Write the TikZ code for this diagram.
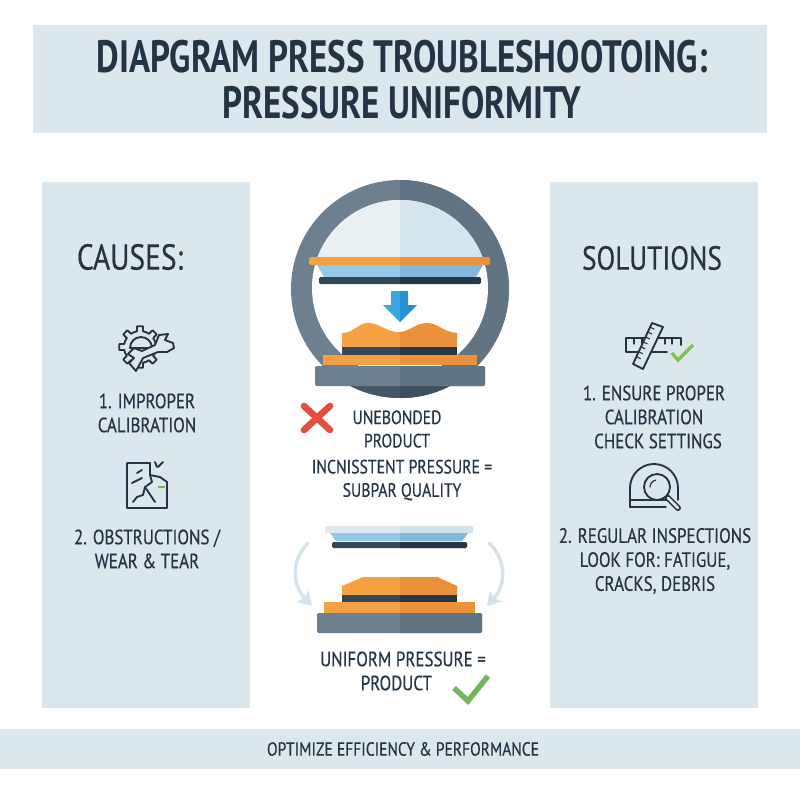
\documentclass[tikz,border=0pt]{standalone}
\usepackage{fontspec}
\setmainfont[FakeStretch=0.82,FakeBold=0.4]{PT Sans}
\newfontfamily\titlefont[FakeStretch=0.77]{PT Sans}
\usetikzlibrary{arrows.meta, positioning, calc}
\definecolor{panelblue}{RGB}{220, 230, 237}
\definecolor{inkdark}{RGB}{35, 52, 68}
\definecolor{okgreen}{RGB}{112, 182, 92}
\definecolor{iconcheck}{RGB}{120, 200, 70}
\definecolor{warnred}{RGB}{226, 80, 60}
\definecolor{palearrow}{RGB}{214, 227, 235}
\definecolor{palebarL}{RGB}{222, 232, 238}
\definecolor{palebarR}{RGB}{210, 224, 232}
% left and right halves of the press shading
\definecolor{ringL}{RGB}{108, 128, 143}
\definecolor{ringR}{RGB}{96, 116, 131}
\definecolor{ringdarkL}{RGB}{68, 88, 104}
\definecolor{ringdarkR}{RGB}{60, 80, 96}
\definecolor{orangeL}{RGB}{245, 160, 65}
\definecolor{orangeR}{RGB}{235, 145, 58}
\definecolor{plateL}{RGB}{52, 72, 90}
\definecolor{plateR}{RGB}{38, 56, 72}
\definecolor{skyL}{RGB}{150, 200, 232}
\definecolor{skyR}{RGB}{130, 184, 218}
\definecolor{domeL}{RGB}{232, 240, 244}
\definecolor{domeR}{RGB}{214, 228, 237}
\definecolor{arrowL}{RGB}{60, 165, 225}
\definecolor{arrowR}{RGB}{38, 145, 208}
\tikzset{
  panel/.style={fill=panelblue, draw=none},
  label/.style={text=inkdark, align=center, font=\fontsize{15.5}{18}\selectfont, inner sep=0pt},
  midlabel/.style={label, font=\fontsize{14.4}{17.5}\selectfont},
  heading/.style={text=inkdark, align=center, font=\fontsize{25}{30}\selectfont, inner sep=0pt},
  icon/.style={draw=inkdark, line width=1.4pt, line join=round, line cap=round},
  cutout/.style={icon, fill=panelblue},
}
% upper press, drawn once per half
\newcommand{\upperpress}[1]{
  \fill[ring#1] (400,289) circle (109);
  \begin{scope}
    \clip (291,386) rectangle (509,400);
    \fill[ringdark#1] (400,289) circle (109);
  \end{scope}
  \fill[white] (400,288) circle (88);
  \begin{scope}
    \clip (400,288) circle (88);
    \fill[dome#1] (300,190) rectangle (500,258);
  \end{scope}
  \fill[sky#1] (317,265) -- (483,265) -- (476,277) -- (324,277) -- cycle;
  \fill[orange#1, rounded corners=1.5pt] (309,257) rectangle (490,265);
  \fill[plate#1, rounded corners=1pt] (319,277) rectangle (481,284);
  \fill[arrow#1] (391,291) -- (408,291) -- (408,305) -- (417,305) -- (400,322) -- (383,305) -- (391,305) -- cycle;
  \fill[orange#1] (342,347) -- (342,333) .. controls (354,333) and (358,323) .. (368,323) .. controls (380,323) and (386,332) .. (398,332) .. controls (410,332) and (415,323) .. (427,323) .. controls (438,323) and (443,332) .. (457,333) -- (457,347) -- cycle;
  \fill[plate#1] (342,347) rectangle (457,355);
  \fill[orange#1] (323,355) rectangle (477,365);
  \fill[ring#1, rounded corners=1pt] (315,366) rectangle (485,386);
}
% lower press, drawn once per half
\newcommand{\lowerpress}[1]{
  \fill[palebar#1, rounded corners=1pt] (325,526) rectangle (473,533);
  \fill[sky#1] (330,533) -- (468,533) -- (462,541) -- (336,541) -- cycle;
  \fill[plate#1, rounded corners=1pt] (332,542) rectangle (467,548);
  \fill[orange#1] (342,595) -- (342,586) -- (363,577) -- (437,577) -- (457,586) -- (457,595) -- cycle;
  \fill[plate#1] (342,595) rectangle (457,602);
  \fill[orange#1] (324,602) rectangle (475,613);
  \fill[ring#1, rounded corners=1pt] (317,613) rectangle (482,633);
}
\begin{document}
\begin{tikzpicture}[x=0.75pt, y=-0.75pt]
  \useasboundingbox (0,0) rectangle (800,800);

  % Panels
  \fill[white] (0,0) rectangle (800,800);
  \fill[panel] (33,25) rectangle (767,133);
  \fill[panel] (42,182) rectangle (250,708);
  \fill[panel] (550,182) rectangle (758,708);
  \fill[panel] (0,729) rectangle (800,769);

  % Title
  \node[text=inkdark, align=center, inner sep=0pt, font=\titlefont\fontsize{34}{34.5}\selectfont\bfseries] (title) at (402,80) {DIAPGRAM PRESS TROUBLESHOOTOING:\\PRESSURE UNIFORMITY};

  % Causes
  \node[heading, font=\fontsize{27}{30}\selectfont] (causes) at (130,257) {CAUSES:};
  \node[label] (cause1) at (147,413) {1. IMPROPER\\CALIBRATION};
  \node[label] (cause2) at (147,549) {2. OBSTRUCTIONS /\\WEAR \& TEAR};

  % Gear and wrench
  \foreach \tooth in {0,45,...,315}
    \draw[icon] ($(140,347)+(\tooth-11:16)$) -- ($(140,347)+(\tooth-8:21)$) -- ($(140,347)+(\tooth+8:21)$) -- ($(140,347)+(\tooth+11:16)$) arc (\tooth+11:\tooth+34:16);
  \draw[icon] (130,348) arc (180:360:11) -- cycle;
  \draw[cutout] (159,335) -- (168,334) -- (165,340) -- (173,343) -- (174,348) -- (167,352) -- (158,352) -- (143,358) -- (136,371) -- (129,363) -- (134,358) -- (128,354) -- (134,348) -- (142,351) -- (155,345) -- cycle;

  % Cracked sheet
  \draw[icon] (150,463) -- (127,463) -- (127,508) -- (167,508) -- (167,482) -- (160,477);
  \draw[icon] (150,463) -- (150,475) -- (160,477);
  \draw[icon] (133,502) -- (137,497) -- (143,495) -- (145,487) -- (152,482) -- (150,475);
  \draw[icon] (145,487) -- (155,502);
  \draw[icon] (132,483) -- (142,478);
  \draw[icon] (137,473) -- (142,470);
  \draw[icon] (158,467) -- (163,462);
  \draw[icon] (155,462) -- (157,467);
  \draw[okgreen, line width=.8pt] (158,487) -- (165,487);

  % Solutions
  \node[heading] (solutions) at (652,258) {SOLUTIONS};
  \node[label] (sol1) at (654,417) {1. ENSURE PROPER\\CALIBRATION\\\hspace*{6pt}CHECK SETTINGS};
  \node[label] (sol2) at (655,561) {2. REGULAR INSPECTIONS\\LOOK FOR: FATIGUE,\\CRACKS, DEBRIS};

  % Rulers
  \draw[icon] (667,352) -- (626,352) -- (626,338) -- (681,338) -- (681,345);
  \foreach \tick in {634,642,665,672}
    \draw[icon, line width=.8pt] (\tick,338) -- (\tick,344);
  \draw[cutout] (652,323) -- (663,327) -- (643,369) -- (633,364) -- cycle;
  \foreach \step in {.1,.22,...,.9}
    \draw[icon, line width=.8pt] ($(652,323)!\step!(633,364)$) -- ++(4,2);
  \draw[iconcheck, line width=2.6pt] (672,353) -- (678,360) -- (693,345);

  % Magnifier in gauge
  \draw[icon] (630,507) -- (630,488) arc (180:360:24) -- (678,500);
  \draw[icon] (630,500) -- (668,500);
  \draw[icon] (630,507) -- (666,507);
  \draw[inkdark, line width=4.5pt, line cap=round] (667,497) -- (678,508);
  \draw[panelblue, line width=2pt, line cap=round] (668,498) -- (678,508);
  \draw[cutout] (657,487) circle (13);
  \draw[icon, line width=.9pt] (650,487) arc (180:260:7);

  % Upper press
  \upperpress{L}
  \begin{scope}
    \clip (400,170) rectangle (520,405);
    \upperpress{R}
  \end{scope}

  % Cross
  \draw[warnred, line width=5pt, line cap=round] (304,406) -- (330,430);
  \draw[warnred, line width=5pt, line cap=round] (330,406) -- (304,430);
  \node[midlabel] (unbonded) at (397,429) {UNEBONDED\\PRODUCT};
  \node[midlabel] (incons) at (402,480) {INCNISSTENT PRESSURE =\\SUBPAR QUALITY};

  % Lower press
  \lowerpress{L}
  \begin{scope}
    \clip (400,520) rectangle (490,640);
    \lowerpress{R}
  \end{scope}
  \coordinate (leftfrom) at (308,543);
  \coordinate (leftto) at (312,606);
  \coordinate (rightfrom) at (489,543);
  \coordinate (rightto) at (487,606);
  \draw[palearrow, line width=2.6pt, line cap=round, -{Stealth[length=10pt, width=12pt, inset=2pt]}] (leftfrom) .. controls (291,560) and (292,585) .. (leftto);
  \draw[palearrow, line width=2.6pt, line cap=round, -{Stealth[length=10pt, width=12pt, inset=2pt]}] (rightfrom) .. controls (507,560) and (506,585) .. (rightto);
  \node[label] (uniform) at (403,671) {UNIFORM PRESSURE =\\PRODUCT\hspace*{10pt}};
  \draw[okgreen, line width=4pt] (454,688) -- (468,701) -- (488,676);

  % Footer
  \node[label, font=\fontsize{14.2}{18}\selectfont] (footer) at (403,749) {OPTIMIZE EFFICIENCY \& PERFORMANCE};
\end{tikzpicture}
\end{document}
